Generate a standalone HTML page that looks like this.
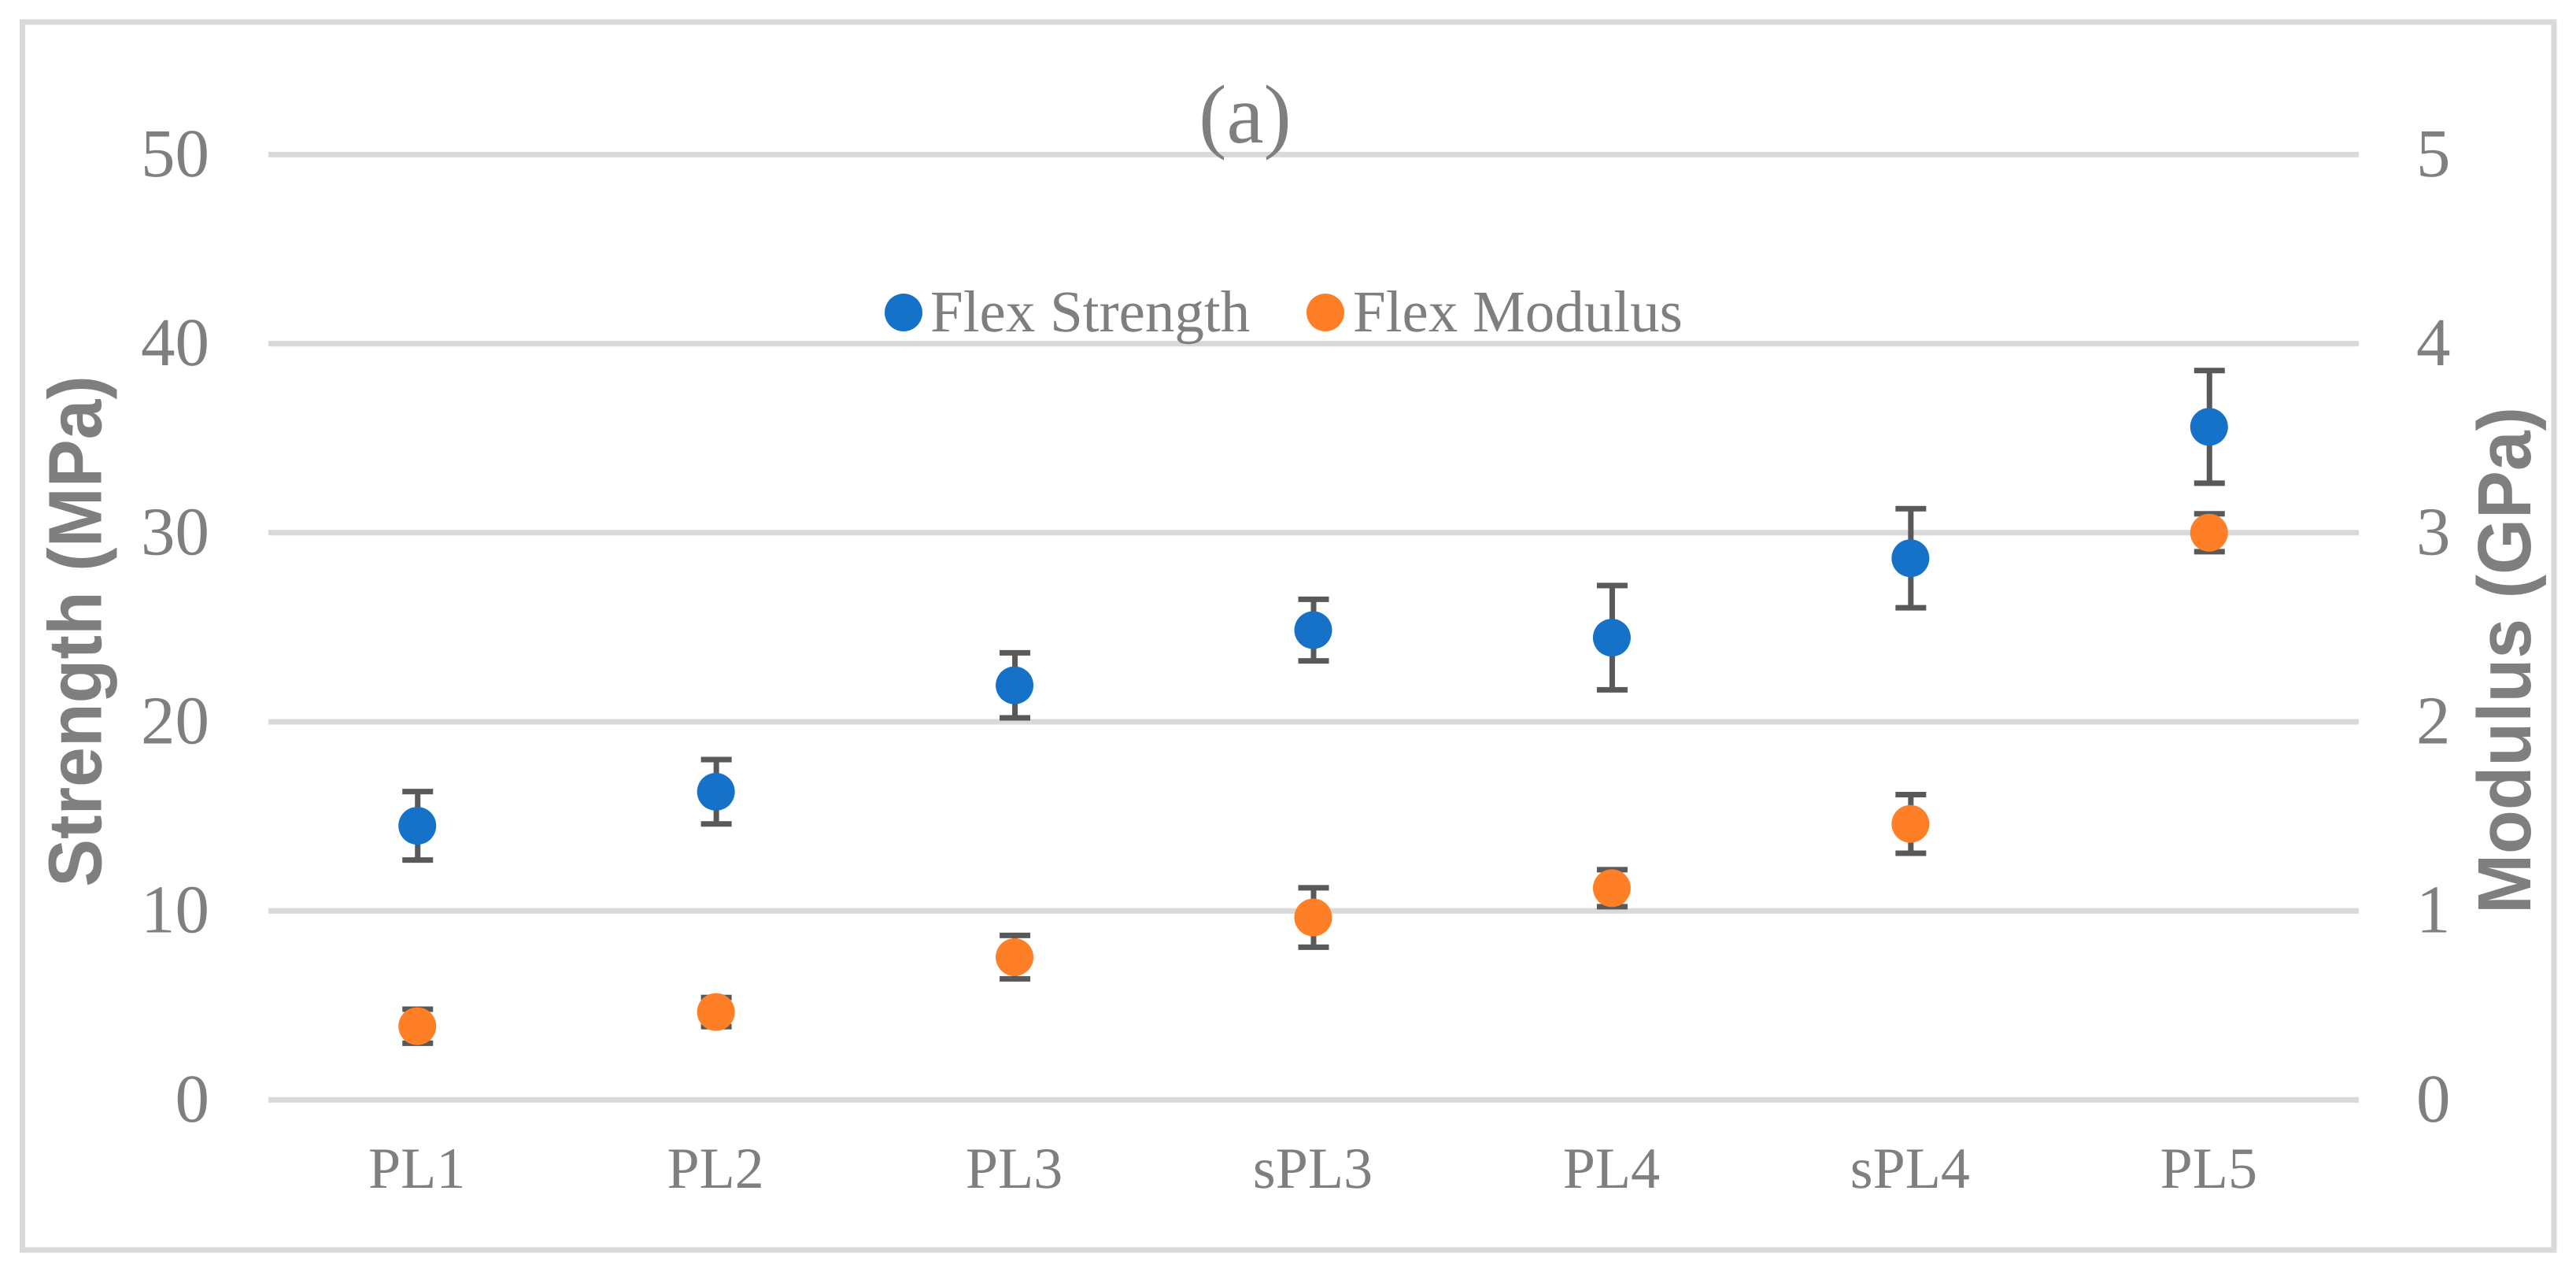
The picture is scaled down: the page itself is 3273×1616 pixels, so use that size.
<!DOCTYPE html>
<html lang="en">
<head>
<meta charset="utf-8">
<title>Flex Strength and Flex Modulus</title>
<style>
html,body{margin:0;padding:0;background:#fff;}
body{width:3273px;height:1616px;overflow:hidden;}
svg{display:block;}
text{fill:#7f7f7f;font-family:"Liberation Serif",serif;text-rendering:geometricPrecision;}
.axis-title{font-family:"Liberation Sans",sans-serif;font-weight:700;font-size:96px;}
</style>
</head>
<body>
<svg id="chart" xmlns="http://www.w3.org/2000/svg" width="3273" height="1616" viewBox="0 0 3273 1616">
  <rect x="0" y="0" width="3273" height="1616" fill="#ffffff"/>
  <rect x="28.5" y="28" width="3216.5" height="1560" fill="none" stroke="#d9d9d9" stroke-width="7"/>
  <g id="grid"></g>
  <g id="left-ticks"></g>
  <g id="right-ticks"></g>
  <g id="x-ticks"></g>
  <g id="marks"></g>
  <text x="1582" y="181" font-size="106" text-anchor="middle">(a)</text>
  <g>
    <g>
      <circle cx="1148" cy="397" r="24" fill="#1672c9"/>
      <text x="1182" y="421" font-size="75">Flex Strength</text>
    </g>
    <g>
      <circle cx="1684" cy="397" r="24" fill="#ff7f27"/>
      <text x="1719" y="421" font-size="75">Flex Modulus</text>
    </g>
  </g>
  <text class="axis-title" transform="translate(128.3 802) rotate(-90) scale(0.952 1)" text-anchor="middle">Strength (MPa)</text>
  <text class="axis-title" transform="translate(3215 839) rotate(-90) scale(0.951 1)" text-anchor="middle">Modulus (GPa)</text>
</svg>
<script>
const categories = ['PL1', 'PL2', 'PL3', 'sPL3', 'PL4', 'sPL4', 'PL5'];
const strengthValues = [14.5, 16.3, 21.93, 24.85, 24.45, 28.65, 35.6];
const strengthErrors = [1.81, 1.7, 1.72, 1.63, 2.76, 2.62, 2.98];
const modulusValues = [0.39, 0.465, 0.755, 0.965, 1.12, 1.46, 3.0];
const modulusErrors = [0.09, 0.077, 0.115, 0.157, 0.098, 0.155, 0.1];
const leftTicks = [0, 10, 20, 30, 40, 50];
const rightTicks = [0, 1, 2, 3, 4, 5];

const NS = 'http://www.w3.org/2000/svg';
const plotLeft = 341;
const plotRight = 2997;
const plotBottom = 1397.4;
const plotTop = 196.4;
const leftMax = 50;
const rightMax = 5;

function xBand(i) {
  const step = (plotRight - plotLeft) / categories.length;
  return plotLeft + step * (i + 0.5);
}
function yLeft(v) {
  return plotBottom - (v / leftMax) * (plotBottom - plotTop);
}
function yRight(v) {
  return plotBottom - (v / rightMax) * (plotBottom - plotTop);
}
function make(tag, attrs, parent) {
  const el = document.createElementNS(NS, tag);
  for (const k in attrs) el.setAttribute(k, attrs[k]);
  parent.appendChild(el);
  return el;
}

const gridGroup = document.getElementById('grid');
const leftGroup = document.getElementById('left-ticks');
const rightGroup = document.getElementById('right-ticks');
const xGroup = document.getElementById('x-ticks');
const marksGroup = document.getElementById('marks');

leftTicks.forEach(function (t) {
  const line = make('line', {x1: plotLeft, x2: plotRight, y1: yLeft(t), y2: yLeft(t), stroke: '#d9d9d9', 'stroke-width': 7}, gridGroup);
  
  
  const label = make('text', {x: 266, y: yLeft(t) + 27.5, 'font-size': 87, 'text-anchor': 'end'}, leftGroup);
  label.textContent = t;
  
  
});

rightTicks.forEach(function (t) {
  const label = make('text', {x: 3070, y: yRight(t) + 27.5, 'font-size': 87}, rightGroup);
  label.textContent = t;
  
  
});

categories.forEach(function (c, i) {
  const label = make('text', {x: xBand(i) - 1, y: 1509, 'font-size': 74, 'text-anchor': 'middle'}, xGroup);
  label.textContent = c;
  
  
});

function drawSeries(values, errors, yFn, color, name) {
  values.forEach(function (v, i) {
    const x = xBand(i);
    const top = yFn(v + errors[i]);
    const bottom = yFn(v - errors[i]);
    const bar = make('path', {
      d: 'M' + (x - 19.5) + ' ' + top + 'H' + (x + 19.5) + 'M' + x + ' ' + top + 'V' + bottom + 'M' + (x - 19.5) + ' ' + bottom + 'H' + (x + 19.5),
      fill: 'none', stroke: '#595959', 'stroke-width': 7
    }, marksGroup);
    
    
    const point = make('circle', {cx: x - 0.5, cy: yFn(v), r: 24, fill: color}, marksGroup);
    
    
  });
}
drawSeries(strengthValues, strengthErrors, yLeft, '#1672c9', 'flex-strength');
drawSeries(modulusValues, modulusErrors, yRight, '#ff7f27', 'flex-modulus');
</script>
</body>
</html>
